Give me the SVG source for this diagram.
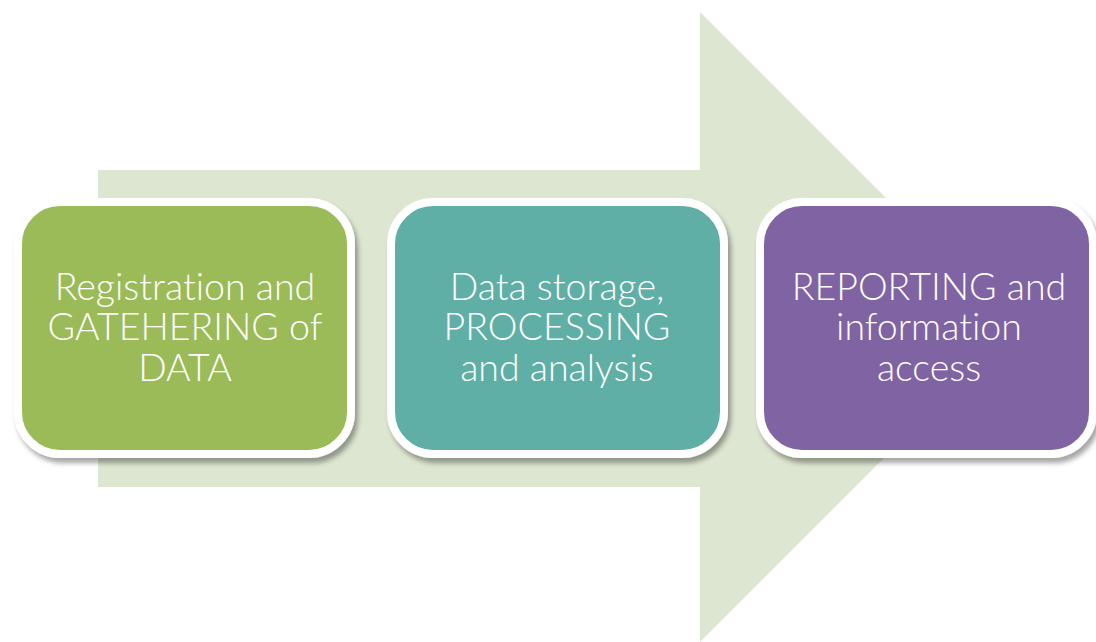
<svg xmlns="http://www.w3.org/2000/svg" width="1096" height="642" viewBox="0 0 1096 642">
<defs>
<filter id="sh" x="-10%" y="-10%" width="125%" height="130%">
<feDropShadow dx="3" dy="5" stdDeviation="2.5" flood-color="#000" flood-opacity="0.35"/>
</filter>
</defs>
<style>
.box{stroke:#fff;stroke-width:8;filter:url(#sh)}
.t{font-family:Lato,"Open Sans","Liberation Sans",sans-serif;font-weight:300;font-size:37.5px;fill:#fff;text-anchor:middle;font-variant-ligatures:none}
</style>
<rect width="1096" height="642" fill="#fff"/>
<g id="arrow">
<polygon points="98,170 700,170 700,12 1015,327 700,642 700,487 98,487" fill="#DDE6D1"/>
</g>
<g id="connectors"></g>
<g id="node1">
<rect class="box" x="18" y="202" width="333" height="252" rx="42" fill="#9BBB59"/>
<text class="t" x="185" y="300">Registration and</text>
<text class="t" x="185" y="340">GATEHERING of</text>
<text class="t" x="185" y="381">DATA</text>
</g>
<g id="node2">
<rect class="box" x="391" y="202" width="333" height="252" rx="42" fill="#5EAFA6"/>
<text class="t" x="557" y="300">Data storage,</text>
<text class="t" x="557" y="340">PROCESSING</text>
<text class="t" x="557" y="381">and analysis</text>
</g>
<g id="node3">
<rect class="box" x="760" y="202" width="333" height="252" rx="42" fill="#8064A2"/>
<text class="t" x="929" y="300">REPORTING and</text>
<text class="t" x="929" y="340">information</text>
<text class="t" x="929" y="381">access</text>
</g>
</svg>
